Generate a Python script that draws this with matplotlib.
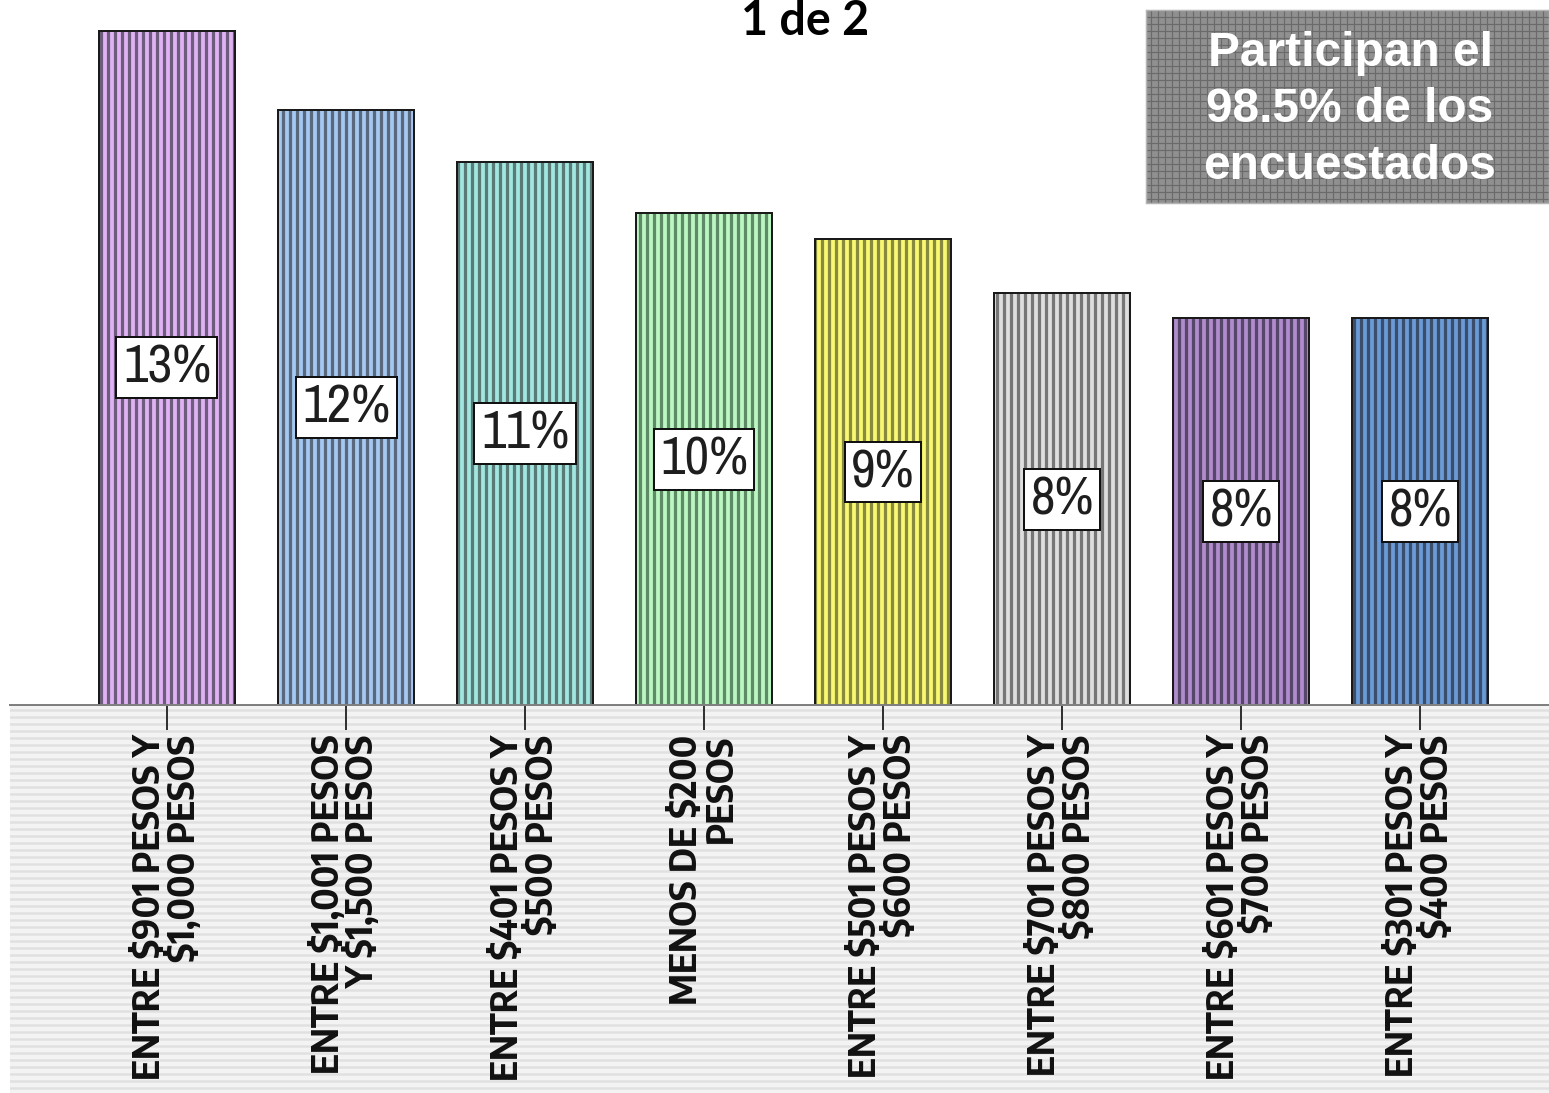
import numpy as np
import matplotlib
matplotlib.use("Agg")
import matplotlib.pyplot as plt
from matplotlib.patches import Rectangle

# Income ranges and share of respondents (%)
categories = [
    "ENTRE $901 PESOS Y\n$1,000 PESOS",
    "ENTRE $1,001 PESOS\nY $1,500 PESOS",
    "ENTRE $401 PESOS Y\n$500 PESOS",
    "MENOS DE $200\nPESOS",
    "ENTRE $501 PESOS Y\n$600 PESOS",
    "ENTRE $701 PESOS Y\n$800 PESOS",
    "ENTRE $601 PESOS Y\n$700 PESOS",
    "ENTRE $301 PESOS Y\n$400 PESOS",
]
percentages = [13.1, 11.55, 10.55, 9.55, 9.05, 8.0, 7.52, 7.52]

bar_colors = ["#dfb2f4", "#a4c8f0", "#a2e6e0", "#baf7c2",
              "#f8f872", "#dedede", "#b08ccc", "#6c9ad6"]
stripe_colors = ["#6e5c7c", "#5a687e", "#5a7a78", "#5e8a66",
                 "#8a8a3e", "#767676", "#56466a", "#3a4e6c"]

title_text = "1 de 2"
note_text = "Participan el\n98.5% de los\nencuestados"

LABEL_FONT = ["Archivo Narrow", "DejaVu Sans"]
TICK_FONT = ["Encode Sans Semi Condensed", "DejaVu Sans"]

W, H, DPI = 1549, 1093, 84
PT = 72 / DPI  # points per pixel

fig = plt.figure(figsize=(W / DPI, H / DPI), dpi=DPI)
fig.patch.set_facecolor("white")

# striped band behind the category labels
with plt.rc_context({"hatch.linewidth": 2.4 * PT}):
    band = Rectangle((10 / W, 0), 1 - 10 / W, (H - 705) / H,
                     transform=fig.transFigure, facecolor="#f3f3f3",
                     edgecolor="#e0e0e0", hatch="--", linewidth=0, zorder=-1)
fig.patches.append(band)

ax = fig.add_axes([10 / W, (H - 705) / H, 1 - 10 / W, (705 - 10) / H])
ax.set_facecolor("none")
x = np.arange(len(categories))

with plt.rc_context({"hatch.linewidth": 3.2 * PT}):
    ax.bar(x, percentages, width=0.76, color=bar_colors,
           edgecolor=stripe_colors, hatch="||", linewidth=0, zorder=2)
ax.bar(x, percentages, width=0.76, fill=False, edgecolor="#1a1a1a",
       linewidth=2.0 * PT, zorder=3)

for xi, v in zip(x, percentages):
    ax.text(xi, v / 2, f"{v:.0f}%", ha="center", va="center",
            fontsize=46, family=LABEL_FONT, color="#1e1e1e", zorder=4,
            bbox=dict(boxstyle="square,pad=0.12", facecolor="white",
                      edgecolor="#111111", linewidth=2.0 * PT))

ax.set_xlim(-0.877, 7.72)
ax.set_ylim(0, 13.5)
ax.set_yticks([])
for side in ("top", "right", "left"):
    ax.spines[side].set_visible(False)
ax.spines["bottom"].set_color("#808080")
ax.spines["bottom"].set_linewidth(2.0 * PT)
ax.spines["bottom"].set_zorder(5)

ax.set_xticks(x)
ax.set_xticklabels(categories, rotation=90, multialignment="right",
                   fontsize=31, fontweight="bold", linespacing=0.95,
                   family=TICK_FONT, color="#111111", parse_math=False)
ax.tick_params(axis="x", direction="out", length=25 * PT, width=2 * PT,
               color="#333333", pad=4)

fig.text(805 / W, 1 - 21 / H, title_text, ha="center", va="center",
         fontsize=40, fontweight="bold", family=["Lato", "DejaVu Sans"],
         color="black")

with plt.rc_context({"hatch.linewidth": 1.2 * PT}):
    note_box = Rectangle((1146 / W, 1 - 203 / H), (W - 1146) / W,
                         (203 - 10) / H, transform=fig.transFigure,
                         facecolor="#909090", edgecolor="#6a6a6a",
                         hatch="++", linewidth=0, zorder=1)
fig.patches.append(note_box)
fig.patches.append(Rectangle((1146 / W, 1 - 203 / H), (W - 1146) / W,
                             (203 - 10) / H, transform=fig.transFigure,
                             fill=False, edgecolor="#b4b4b4",
                             linewidth=1.5 * PT, zorder=1))
fig.text(1350 / W, 1 - 110 / H, note_text, ha="center", va="center",
         fontsize=41, fontweight="bold",
         family=["Liberation Sans", "DejaVu Sans"], color="white",
         linespacing=1.32, zorder=2)

fig.savefig("out.png", dpi=DPI)
